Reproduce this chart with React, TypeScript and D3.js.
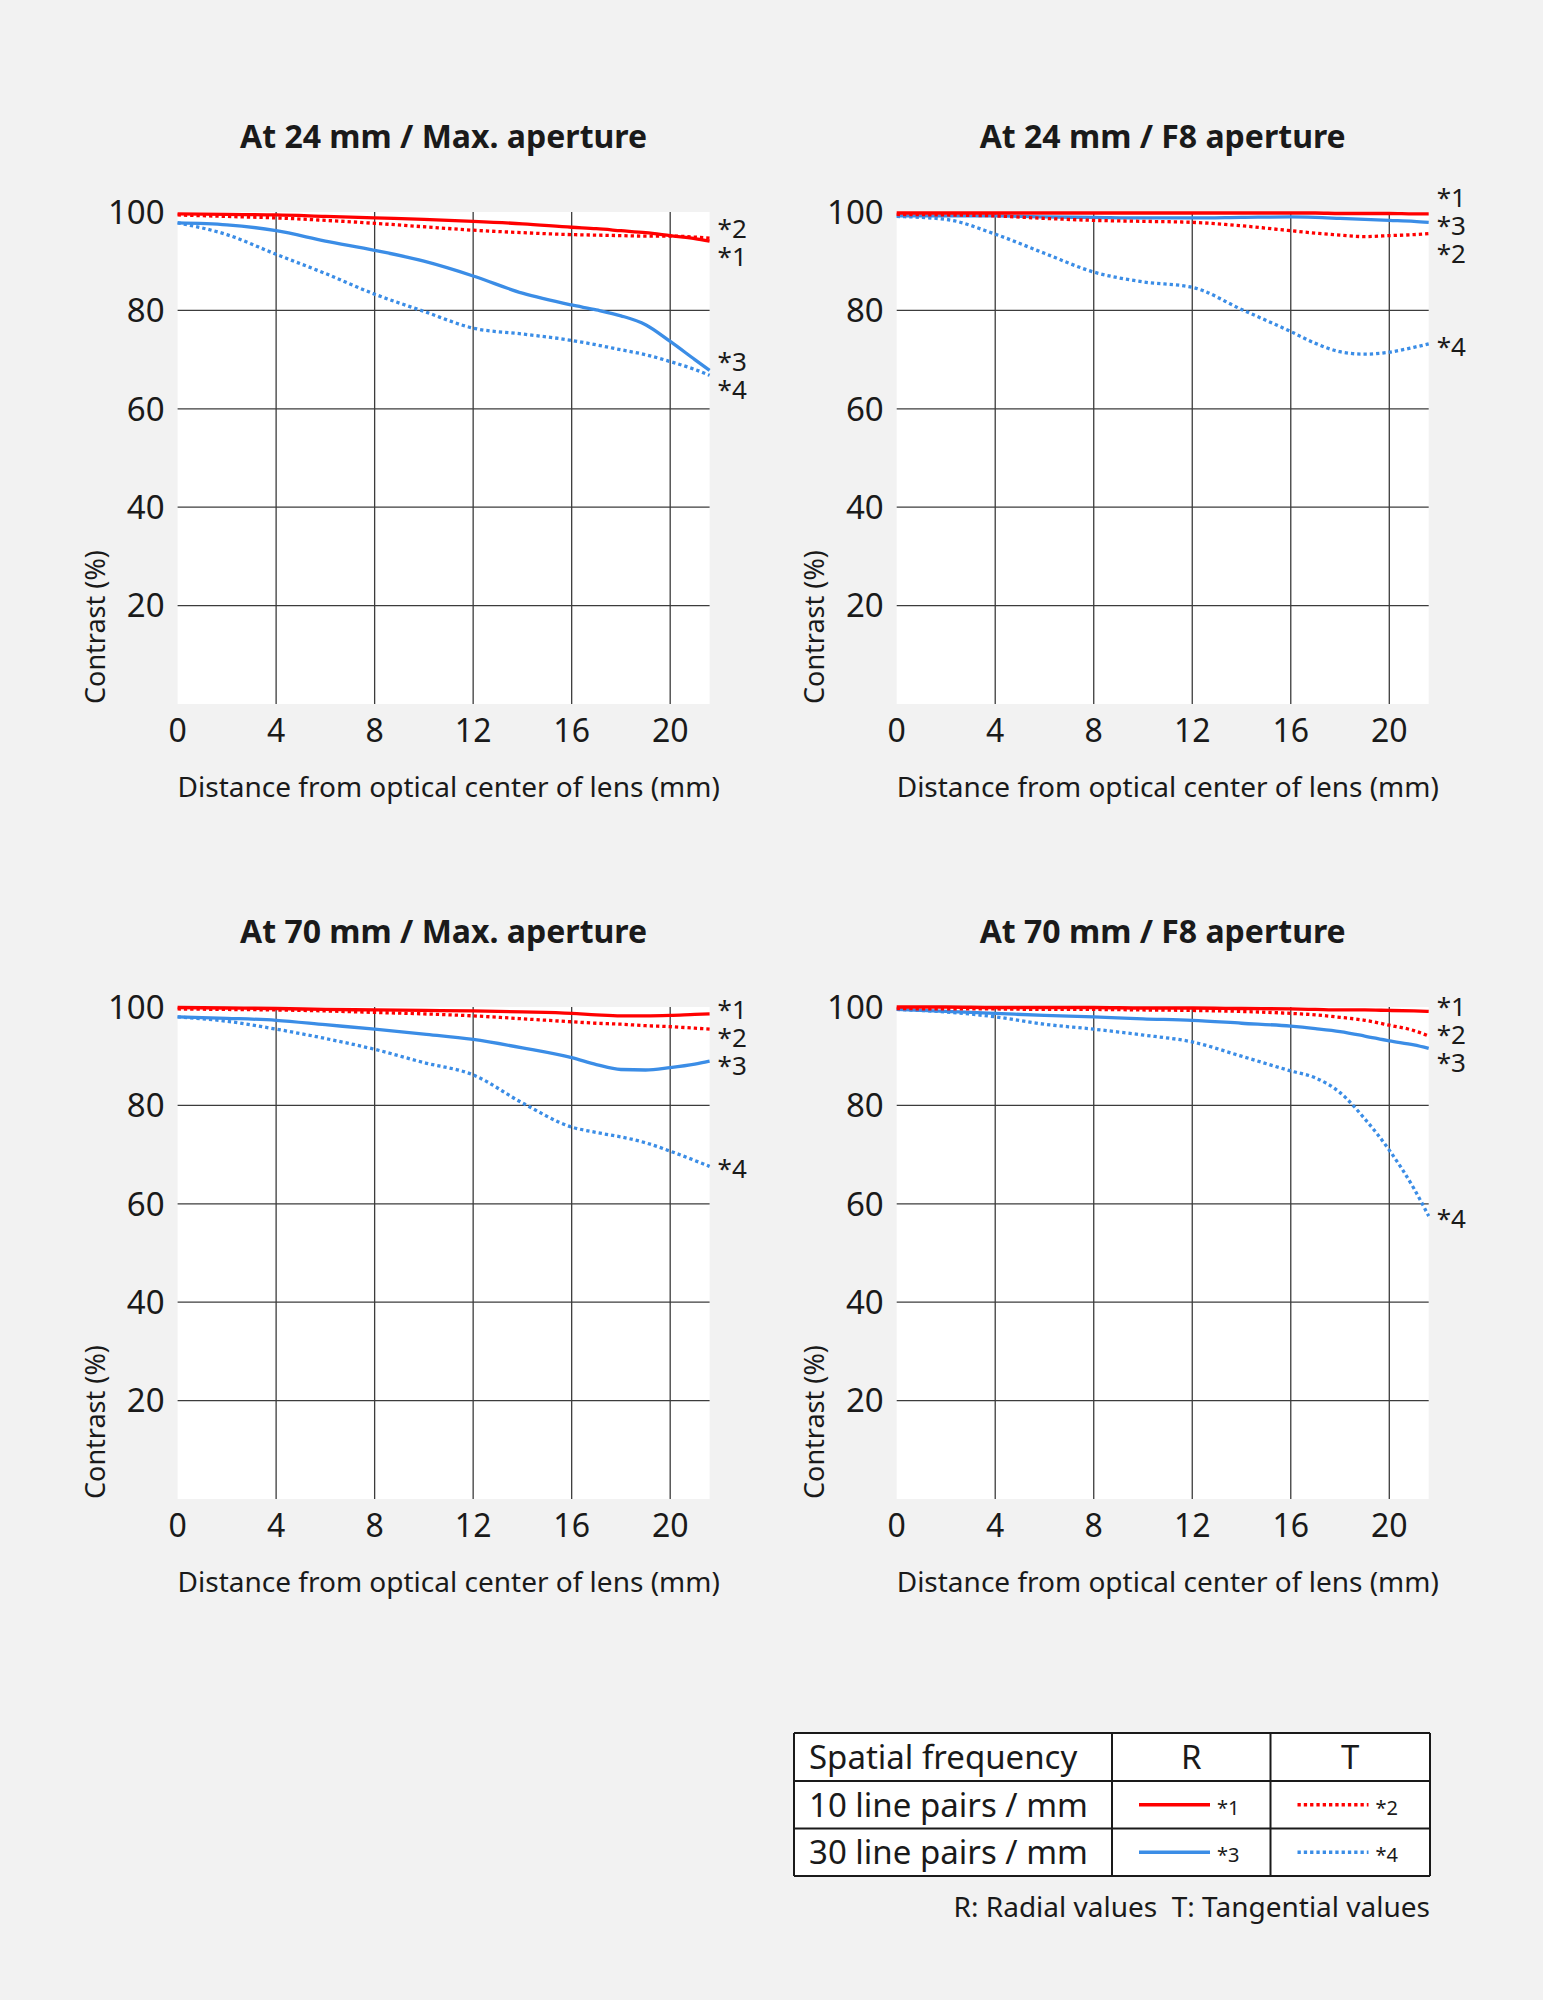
// MTF chart: four panels (24/70 mm, max/F8 aperture) + legend table.
import * as d3 from "d3";

const W = 1543;
const H = 2000;
const FONT = "'Noto Sans', 'Open Sans', sans-serif";
const INK = "#1a1a1a";
const BG = "#f2f2f2";
const GRID = "#3c3c3c";
const RED = "#ff0000";
const BLUE = "#3b8de6";

// distance from optical center (mm), shared sampling for every curve
const DIST = [0, 2, 4, 6, 8, 10, 12, 14, 16, 17, 18, 19, 20, 21, 21.6];
const X_MAX = 21.6;
const X_TICKS = [0, 4, 8, 12, 16, 20];
const Y_TICKS = [20, 40, 60, 80, 100];
const Y_GRID = [20, 40, 60, 80];

const TITLES = [
  "At 24 mm / Max. aperture",
  "At 24 mm / F8 aperture",
  "At 70 mm / Max. aperture",
  "At 70 mm / F8 aperture",
];

// contrast (%) — *1 R10, *2 T10, *3 R30, *4 T30
const W24MAX_1 = [99.6, 99.5, 99.4, 99.1, 98.8, 98.5, 98.1, 97.6, 96.9, 96.6, 96.2, 95.8, 95.2, 94.6, 94.1];
const W24MAX_2 = [99.4, 99.1, 98.8, 98.3, 97.7, 97.0, 96.3, 95.8, 95.4, 95.3, 95.2, 95.1, 95.1, 94.9, 94.7];
const W24MAX_3 = [97.8, 97.4, 96.2, 94.1, 92.2, 90.0, 87.0, 83.5, 81.1, 80.1, 78.9, 77.1, 73.7, 70.0, 67.8];
const W24MAX_4 = [97.8, 95.4, 91.4, 87.5, 83.3, 79.8, 76.4, 75.2, 73.9, 73.0, 72.0, 71.0, 69.6, 68.0, 66.8];

const W24F8_1 = [99.8, 99.8, 99.8, 99.8, 99.8, 99.8, 99.8, 99.8, 99.8, 99.8, 99.7, 99.7, 99.7, 99.6, 99.6];
const W24F8_2 = [99.5, 99.4, 99.2, 98.7, 98.3, 98.1, 97.9, 97.2, 96.2, 95.7, 95.3, 95.0, 95.2, 95.4, 95.6];
const W24F8_3 = [99.2, 99.2, 99.2, 99.0, 98.9, 98.8, 98.8, 98.9, 99.0, 98.9, 98.7, 98.5, 98.3, 98.1, 97.9];
const W24F8_4 = [99.1, 98.5, 95.5, 91.6, 87.8, 85.8, 84.7, 80.2, 75.7, 73.3, 71.6, 71.1, 71.5, 72.5, 73.2];

const T70MAX_1 = [99.9, 99.8, 99.7, 99.5, 99.4, 99.3, 99.2, 99.0, 98.7, 98.4, 98.2, 98.2, 98.3, 98.5, 98.6];
const T70MAX_2 = [99.6, 99.5, 99.4, 99.2, 98.9, 98.6, 98.2, 97.6, 97.0, 96.7, 96.5, 96.2, 96.0, 95.7, 95.5];
const T70MAX_3 = [98.0, 97.7, 97.3, 96.4, 95.5, 94.5, 93.4, 91.7, 89.7, 88.3, 87.3, 87.2, 87.7, 88.4, 89.0];
const T70MAX_4 = [98.0, 97.1, 95.5, 93.6, 91.4, 88.7, 86.2, 80.5, 75.6, 74.5, 73.6, 72.4, 70.7, 68.8, 67.6];

const T70F8_1 = [100, 100, 99.9, 99.9, 99.9, 99.8, 99.8, 99.7, 99.6, 99.5, 99.4, 99.4, 99.3, 99.2, 99.1];
const T70F8_2 = [99.7, 99.6, 99.6, 99.5, 99.5, 99.4, 99.3, 99.1, 98.7, 98.4, 97.9, 97.3, 96.3, 95.2, 94.1];
const T70F8_3 = [99.5, 99.1, 98.7, 98.3, 98.0, 97.6, 97.3, 96.7, 96.1, 95.6, 95.0, 94.1, 93.1, 92.3, 91.6];
const T70F8_4 = [99.5, 99.0, 98.0, 96.5, 95.5, 94.3, 92.9, 90.0, 87.0, 85.6, 82.6, 77.3, 70.9, 63.1, 57.5];

const SERIES_KEYS = ["*1", "*2", "*3", "*4"];
const STYLE: Record<string, { color: string; dotted: boolean }> = {
  "*1": { color: RED, dotted: false },
  "*2": { color: RED, dotted: true },
  "*3": { color: BLUE, dotted: false },
  "*4": { color: BLUE, dotted: true },
};

const PANEL_DATA = [
  [W24MAX_1, W24MAX_2, W24MAX_3, W24MAX_4],
  [W24F8_1, W24F8_2, W24F8_3, W24F8_4],
  [T70MAX_1, T70MAX_2, T70MAX_3, T70MAX_4],
  [T70F8_1, T70F8_2, T70F8_3, T70F8_4],
];

const LEGEND_HEAD = ["Spatial frequency", "R", "T"];
const LEGEND_ROWS = ["10 line pairs / mm", "30 line pairs / mm"];
const LEGEND_KEYS = [
  ["*1", "*2"],
  ["*3", "*4"],
];
const CAPTION = "R: Radial values\u00a0\u00a0T: Tangential values";

// layout
const PLOT_W = 532;
const PLOT_H = 492;
const COL_LEFT = [177.6, 896.7];
const ROW_TOP = [212, 1007];
const LINE_W = 3.3;

// stack end labels so they don't collide, spreading clusters round their mean
function dodge(targets: number[], gap: number): number[] {
  const order = targets.map((_, i) => i).sort((a, b) => targets[a] - targets[b]);
  const cs: { idx: number[]; start: number }[] = [];
  for (const i of order) {
    cs.push({ idx: [i], start: targets[i] });
    while (cs.length > 1) {
      const b = cs[cs.length - 1];
      const a = cs[cs.length - 2];
      if (a.start + a.idx.length * gap <= b.start) break;
      const idx = [...a.idx, ...b.idx];
      const mean = d3.mean(idx, (j) => targets[j])!;
      cs.splice(cs.length - 2, 2, { idx, start: mean - ((idx.length - 1) * gap) / 2 });
    }
  }
  const out = new Array<number>(targets.length);
  cs.forEach((c) => c.idx.forEach((j, k) => (out[j] = c.start + k * gap)));
  return out;
}

function Panel({ left, top, title, data }: { left: number; top: number; title: string; data: number[][] }) {
  const x = d3.scaleLinear().domain([0, X_MAX]).range([left, left + PLOT_W]);
  const y = d3.scaleLinear().domain([0, 100]).range([top + PLOT_H, top]);
  const line = d3
    .line<number>()
    .x((_, i) => x(DIST[i]))
    .y((d) => y(d))
    .curve(d3.curveMonotoneX);

  const ends = data.map((s) => y(s[s.length - 1]));
  const labelY = dodge(ends, 28);
  const bottom = top + PLOT_H;
  const right = left + PLOT_W;

  return (
    <g>
      <text
        x={(left + right) / 2}
        y={top - 64}
        textAnchor="middle"
        fontSize={32}
        fontWeight="bold"
        fill={INK}
      >
        {title}
      </text>
      <rect x={left} y={top} width={PLOT_W} height={PLOT_H} fill="#ffffff" />
      {Y_GRID.map((v) => (
        <line key={`h${v}`} x1={left} x2={right} y1={y(v)} y2={y(v)} stroke={GRID} strokeWidth={1.3} />
      ))}
      {X_TICKS.filter((t) => t > 0).map((t) => (
        <line key={`v${t}`} x1={x(t)} x2={x(t)} y1={top} y2={bottom} stroke={GRID} strokeWidth={1.3} />
      ))}
      {Y_TICKS.map((v) => (
        <text key={`yl${v}`} x={left - 13} y={y(v)} dy="0.36em" textAnchor="end" fontSize={33} fill={INK}>
          {v}
        </text>
      ))}
      {X_TICKS.map((t) => (
        <text key={`xl${t}`} x={x(t)} y={bottom + 37.5} textAnchor="middle" fontSize={32} fill={INK}>
          {t}
        </text>
      ))}
      <text x={left} y={bottom + 93} fontSize={28} fill={INK}>
        Distance from optical center of lens (mm)
      </text>
      <text transform={`translate(${left - 73},${bottom}) rotate(-90)`} fontSize={27} fill={INK}>
        Contrast (%)
      </text>
      {data
        .map((s, i) => ({ s, key: SERIES_KEYS[i] }))
        .reverse()
        .map(({ s, key }) => (
          <path
            key={key}
            d={line(s) ?? ""}
            fill="none"
            stroke={STYLE[key].color}
            strokeWidth={LINE_W}
            strokeDasharray={STYLE[key].dotted ? "3.3 3" : undefined}
          />
        ))}
      {SERIES_KEYS.map((k, i) => (
        <text key={`lab${k}`} x={right + 8} y={labelY[i] + 12} fontSize={26} fill={INK}>
          {k}
        </text>
      ))}
    </g>
  );
}

function Legend() {
  const colX = [794, 1112, 1270.5, 1430];
  const rowY = [1733, 1781, 1828.5, 1876];
  const mid = (a: number[], i: number) => (a[i] + a[i + 1]) / 2;
  return (
    <g>
      <rect x={colX[0]} y={rowY[0]} width={colX[3] - colX[0]} height={rowY[3] - rowY[0]} fill="#ffffff" />
      {LEGEND_HEAD.map((h, i) => (
        <text
          key={h}
          x={i === 0 ? colX[0] + 15 : mid(colX, i)}
          y={mid(rowY, 0)}
          dy="0.36em"
          textAnchor={i === 0 ? "start" : "middle"}
          fontSize={33}
          fill={INK}
        >
          {h}
        </text>
      ))}
      {LEGEND_ROWS.map((r, ri) => {
        const cy = mid(rowY, ri + 1);
        return (
          <g key={r}>
            <text x={colX[0] + 15} y={cy} dy="0.36em" fontSize={33} fill={INK}>
              {r}
            </text>
            {LEGEND_KEYS[ri].map((k, ci) => {
              const x0 = colX[ci + 1] + 27;
              return (
                <g key={k}>
                  <line
                    x1={x0}
                    x2={x0 + 71}
                    y1={cy}
                    y2={cy}
                    stroke={STYLE[k].color}
                    strokeWidth={LINE_W}
                    strokeDasharray={STYLE[k].dotted ? "3.3 3" : undefined}
                  />
                  <text x={x0 + 78} y={cy + 10} fontSize={20} fill={INK}>
                    {k}
                  </text>
                </g>
              );
            })}
          </g>
        );
      })}
      {rowY.map((yy, i) => (
        <line key={`r${i}`} x1={colX[0]} x2={colX[3]} y1={yy} y2={yy} stroke={INK} strokeWidth={2} />
      ))}
      {colX.map((xx, i) => (
        <line key={`c${i}`} x1={xx} x2={xx} y1={rowY[0]} y2={rowY[3]} stroke={INK} strokeWidth={2} />
      ))}
      <text x={colX[3]} y={1916.7} textAnchor="end" fontSize={28} fill={INK}>
        {CAPTION}
      </text>
    </g>
  );
}

export default function App() {
  return (
    <svg
      width={W}
      height={H}
      viewBox={`0 0 ${W} ${H}`}
      style={{ position: "absolute", left: 0, top: 0, display: "block" }}
      fontFamily={FONT}
    >
      <rect width={W} height={H} fill={BG} />
      {PANEL_DATA.map((data, i) => (
        <Panel
          key={TITLES[i]}
          left={COL_LEFT[i % 2]}
          top={ROW_TOP[Math.floor(i / 2)]}
          title={TITLES[i]}
          data={data}
        />
      ))}
      <Legend />
    </svg>
  );
}
